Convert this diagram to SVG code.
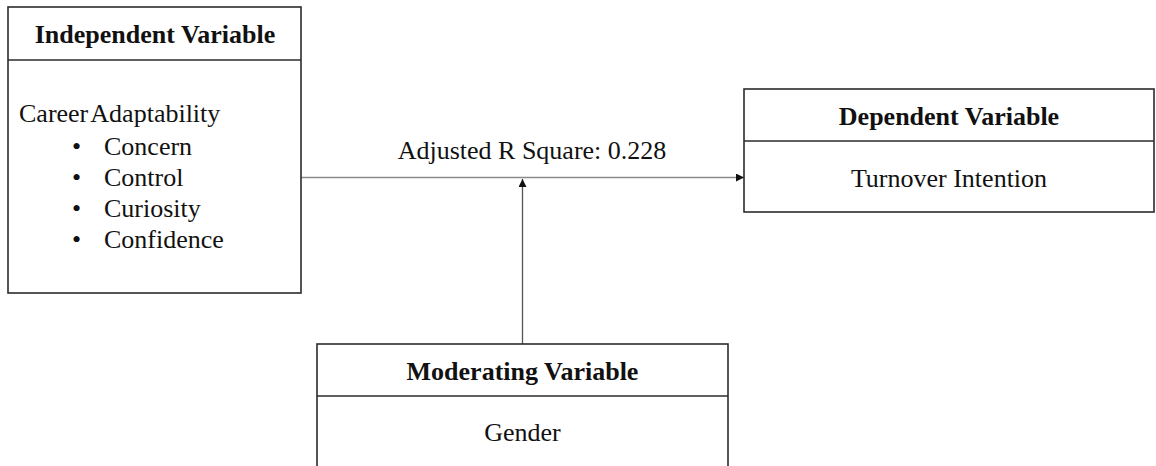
<svg xmlns="http://www.w3.org/2000/svg" width="1156" height="466" viewBox="0 0 1156 466">
<defs>
<style>
.box{fill:#fff;stroke:#2b2b2b;stroke-width:1.6}
.div{stroke:#2b2b2b;stroke-width:1.6}
.t{font-family:"Liberation Serif","Times New Roman",serif;font-size:26px;fill:#111}
.b{font-weight:bold}
.c{text-anchor:middle}
.conn{stroke:#8a8a8a;stroke-width:1.3;fill:none}
.conn2{stroke:#555;stroke-width:1.3;fill:none}
</style>
<marker id="ah" viewBox="0 0 10 10" refX="10" refY="5" markerWidth="10" markerHeight="8" markerUnits="userSpaceOnUse" orient="auto">
<path d="M0,0 L10,5 L0,10 Z" fill="#111"/>
</marker>
</defs>
<rect width="1156" height="466" fill="#fff"/>
<g id="connectors">
<line class="conn" x1="301" y1="177.5" x2="744" y2="177.5" marker-end="url(#ah)"/>
<line class="conn2" x1="522.5" y1="344" x2="522.5" y2="179" marker-end="url(#ah)"/>
</g>
<g id="independent">
<rect class="box" x="8" y="7" width="293" height="286"/>
<line class="div" x1="8" y1="60" x2="301" y2="60"/>
<text class="t b c" x="155" y="43">Independent Variable</text>
<text class="t" x="19" y="122" word-spacing="-3">Career Adaptability</text>
<text class="t" x="72" y="155">•</text><text class="t" x="104" y="155">Concern</text>
<text class="t" x="72" y="186">•</text><text class="t" x="104" y="186">Control</text>
<text class="t" x="72" y="217">•</text><text class="t" x="104" y="217">Curiosity</text>
<text class="t" x="72" y="248">•</text><text class="t" x="104" y="248">Confidence</text>
</g>
<g id="label">
<text class="t c" x="532" y="159">Adjusted R Square: 0.228</text>
</g>
<g id="dependent">
<rect class="box" x="744" y="89" width="410" height="123"/>
<line class="div" x1="744" y1="141" x2="1154" y2="141"/>
<text class="t b c" x="949" y="125">Dependent Variable</text>
<text class="t c" x="949" y="187">Turnover Intention</text>
</g>
<g id="moderating">
<rect class="box" x="317" y="344" width="411" height="140"/>
<line class="div" x1="317" y1="396" x2="728" y2="396"/>
<text class="t b c" x="522.5" y="380">Moderating Variable</text>
<text class="t c" x="522.5" y="441">Gender</text>
</g>
</svg>
